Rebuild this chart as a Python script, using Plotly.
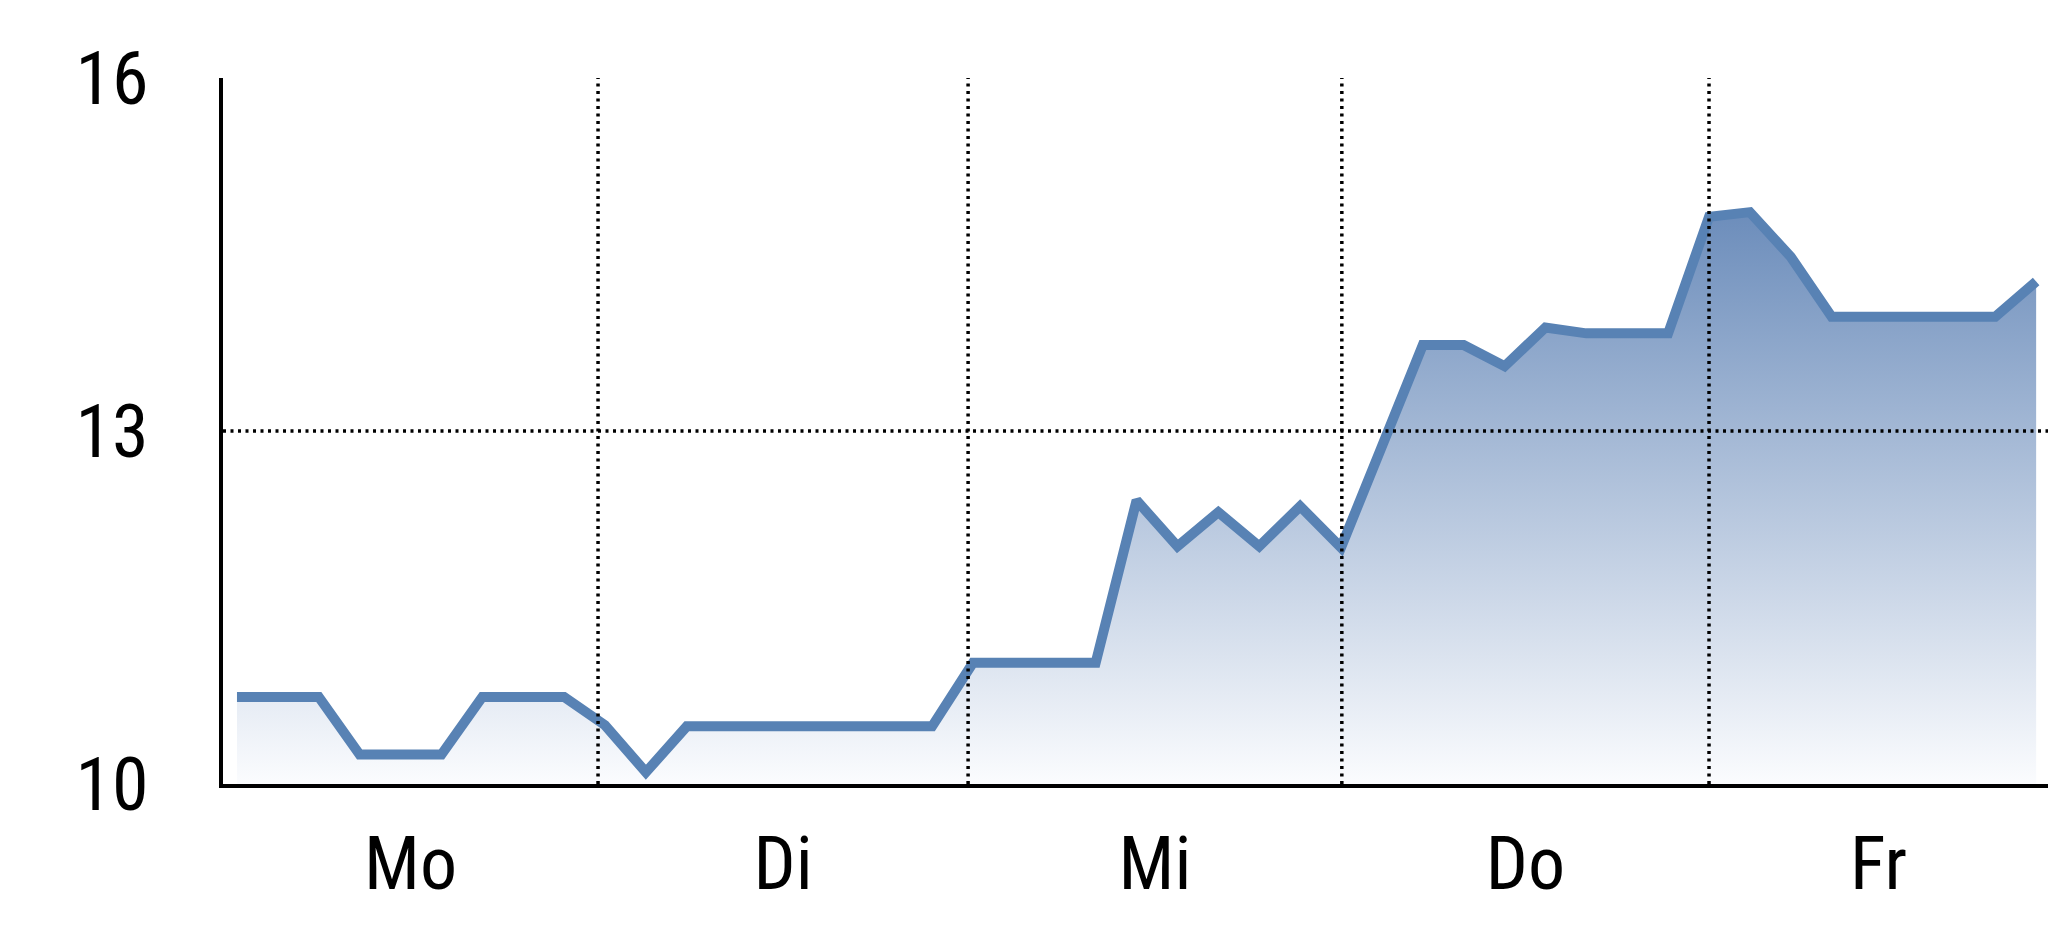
import plotly.graph_objects as go

# ---- data ----
day_labels = ["Mo", "Di", "Mi", "Do", "Fr"]
# measurement index (9 readings per day)
point_index = list(range(45))
values = [10.74, 10.74, 10.74, 10.25, 10.25, 10.25, 10.74, 10.74, 10.74,
          10.50, 10.10, 10.49, 10.49, 10.49, 10.49, 10.49, 10.49, 10.49,
          11.03, 11.03, 11.03, 11.03, 12.41, 12.02, 12.31, 12.02, 12.36,
          12.01, 12.87, 13.73, 13.73, 13.55, 13.88, 13.83, 13.83, 13.83,
          14.82, 14.86, 14.48, 13.97, 13.97, 13.97, 13.97, 13.97, 14.27]
# day boundaries, in measurement-index units
day_boundaries = [8.83, 17.88, 27.02, 36.0]
x_range = [-0.342, 44.29]
y_ticks = [10, 13, 16]
y_range = [10, 16]

FONT = "Roboto Condensed, Liberation Sans Narrow, Arial Narrow, Liberation Sans, Arial, sans-serif"
LINE_COLOR = "rgb(88,130,180)"

edges = [x_range[0]] + day_boundaries + [x_range[1]]
label_pos = [(edges[k] + edges[k + 1]) / 2 for k in range(len(day_labels))]

fig = go.Figure()
fig.add_trace(go.Scatter(
    x=point_index, y=values,
    mode="lines",
    line=dict(color=LINE_COLOR, width=10),
    fill="tozeroy",
    fillgradient=dict(
        type="vertical",
        start=y_range[0], stop=max(values),
        colorscale=[[0, "rgb(251,252,254)"], [1, "rgb(108,141,187)"]],
    ),
    hoverinfo="skip",
    showlegend=False,
))

dot_line = dict(color="black", width=3.5, dash="3px,4.5px")
shapes = []
for b in day_boundaries:
    shapes.append(dict(type="line", xref="x", yref="paper", x0=b, x1=b, y0=0, y1=1,
                       line=dot_line, layer="above"))
for yv in y_ticks[1:-1]:
    shapes.append(dict(type="line", xref="paper", yref="y", x0=0, x1=1, y0=yv, y1=yv,
                       line=dot_line, layer="above"))

fig.update_layout(
    width=2048, height=937,
    margin=dict(l=223, r=0, t=78, b=153, autoexpand=False),
    paper_bgcolor="white", plot_bgcolor="white",
    font=dict(family=FONT, color="black", size=74),
    shapes=shapes,
    xaxis=dict(
        range=x_range, tickmode="array", tickvals=label_pos, ticktext=day_labels,
        showgrid=False, zeroline=False, showline=True, linecolor="black", linewidth=3.5,
        ticks="", ticklabelstandoff=12, fixedrange=True, automargin=False,
    ),
    yaxis=dict(
        range=y_range, tickmode="array", tickvals=y_ticks,
        ticktext=[str(v) for v in y_ticks],
        showgrid=False, zeroline=False, showline=True, linecolor="black", linewidth=3.5,
        ticks="", ticklabelstandoff=56, fixedrange=True, automargin=False,
    ),
)

fig.write_html(
    "out.html",
    config={"displayModeBar": False},
    post_script="document.body.style.margin='0';document.body.style.padding='0';"
                "document.body.style.overflow='hidden';",
)
